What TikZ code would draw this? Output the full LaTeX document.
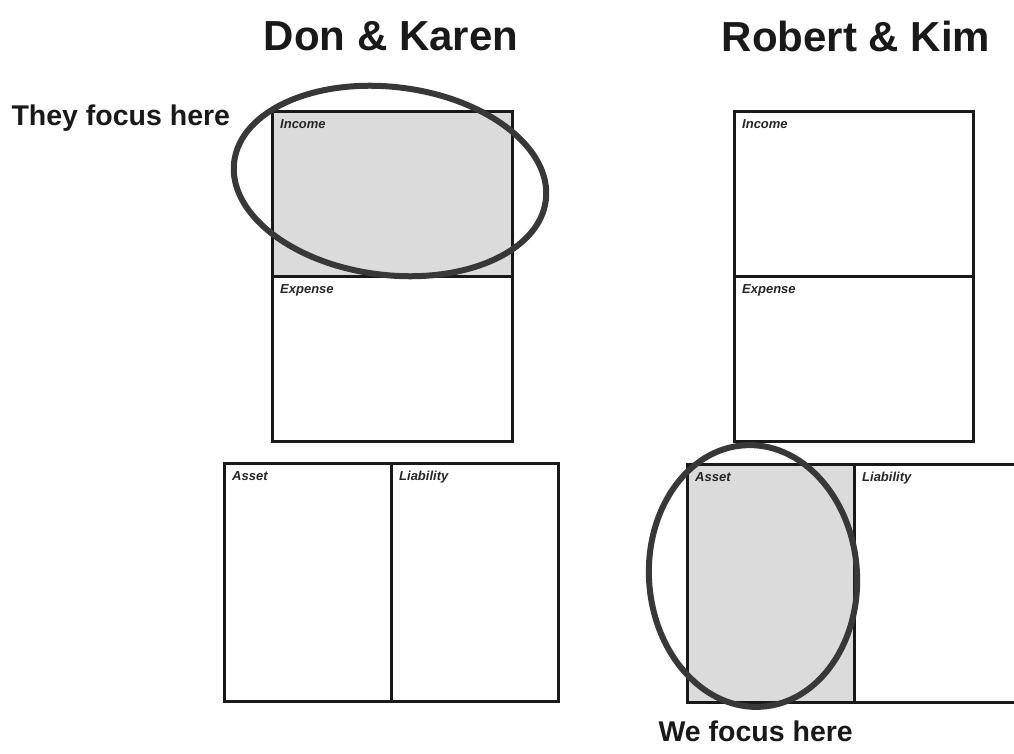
\documentclass[tikz,border=0pt]{standalone}
\usepackage{fontspec}
\setmainfont{Liberation Sans}
\begin{document}
\begin{tikzpicture}[x=1pt,y=-1pt,
  box/.style={draw=black!90,line width=2.6pt,inner sep=0pt,anchor=north west},
  hl/.style={fill=black!14},
  lbl/.style={anchor=north west,inner sep=0pt,font=\fontsize{13}{15}\selectfont\bfseries\itshape,text=black!85},
  ttl/.style={font=\fontsize{42}{46}\selectfont\bfseries,text=black!90},
  note/.style={font=\fontsize{28.5}{31}\selectfont\bfseries,text=black!90},
  ring/.style={draw=black!78,line width=6pt}]
\useasboundingbox (0,0) rectangle (1014,754);
% titles
\node[ttl] (t1) at (391,36) {Don \& Karen};
\node[ttl] (t2) at (856,36) {Robert \& Kim};
% left statements
\node[box,hl,minimum width=240pt,minimum height=165pt] (inc1) at (271,110) {};
\node[box,minimum width=240pt,minimum height=165pt] (exp1) at (271,275) {};
\node[box,minimum width=167pt,minimum height=238pt] (ast1) at (223,462) {};
\node[box,minimum width=167pt,minimum height=238pt] (lia1) at (390,462) {};
% right statements
\node[box,minimum width=239pt,minimum height=165pt] (inc2) at (733,110) {};
\node[box,minimum width=239pt,minimum height=165pt] (exp2) at (733,275) {};
\node[box,hl,minimum width=167pt,minimum height=238pt] (ast2) at (686,463) {};
\node[box,minimum width=175pt,minimum height=238pt] (lia2) at (853,463) {};
% focus rings
\draw[ring] (390,181) ellipse[x radius=157pt,y radius=94pt,rotate=-7];
\draw[ring] (753,576) ellipse[x radius=104pt,y radius=131pt,rotate=4];
% labels
\node[lbl] (l1) at ([xshift=9pt,yshift=-9pt]inc1.north west) {Income};
\node[lbl] (l2) at ([xshift=9pt,yshift=-9pt]exp1.north west) {Expense};
\node[lbl] (l3) at ([xshift=9pt,yshift=-9pt]ast1.north west) {Asset};
\node[lbl] (l4) at ([xshift=9pt,yshift=-9pt]lia1.north west) {Liability};
\node[lbl] (l5) at ([xshift=9pt,yshift=-9pt]inc2.north west) {Income};
\node[lbl] (l6) at ([xshift=9pt,yshift=-9pt]exp2.north west) {Expense};
\node[lbl] (l7) at ([xshift=9pt,yshift=-9pt]ast2.north west) {Asset};
\node[lbl] (l8) at ([xshift=9pt,yshift=-9pt]lia2.north west) {Liability};
% notes
\node[note,anchor=west] (n1) at (8,118) {They focus here};
\node[note,anchor=west] (n2) at (655,731) {We focus here};
\end{tikzpicture}
\end{document}
